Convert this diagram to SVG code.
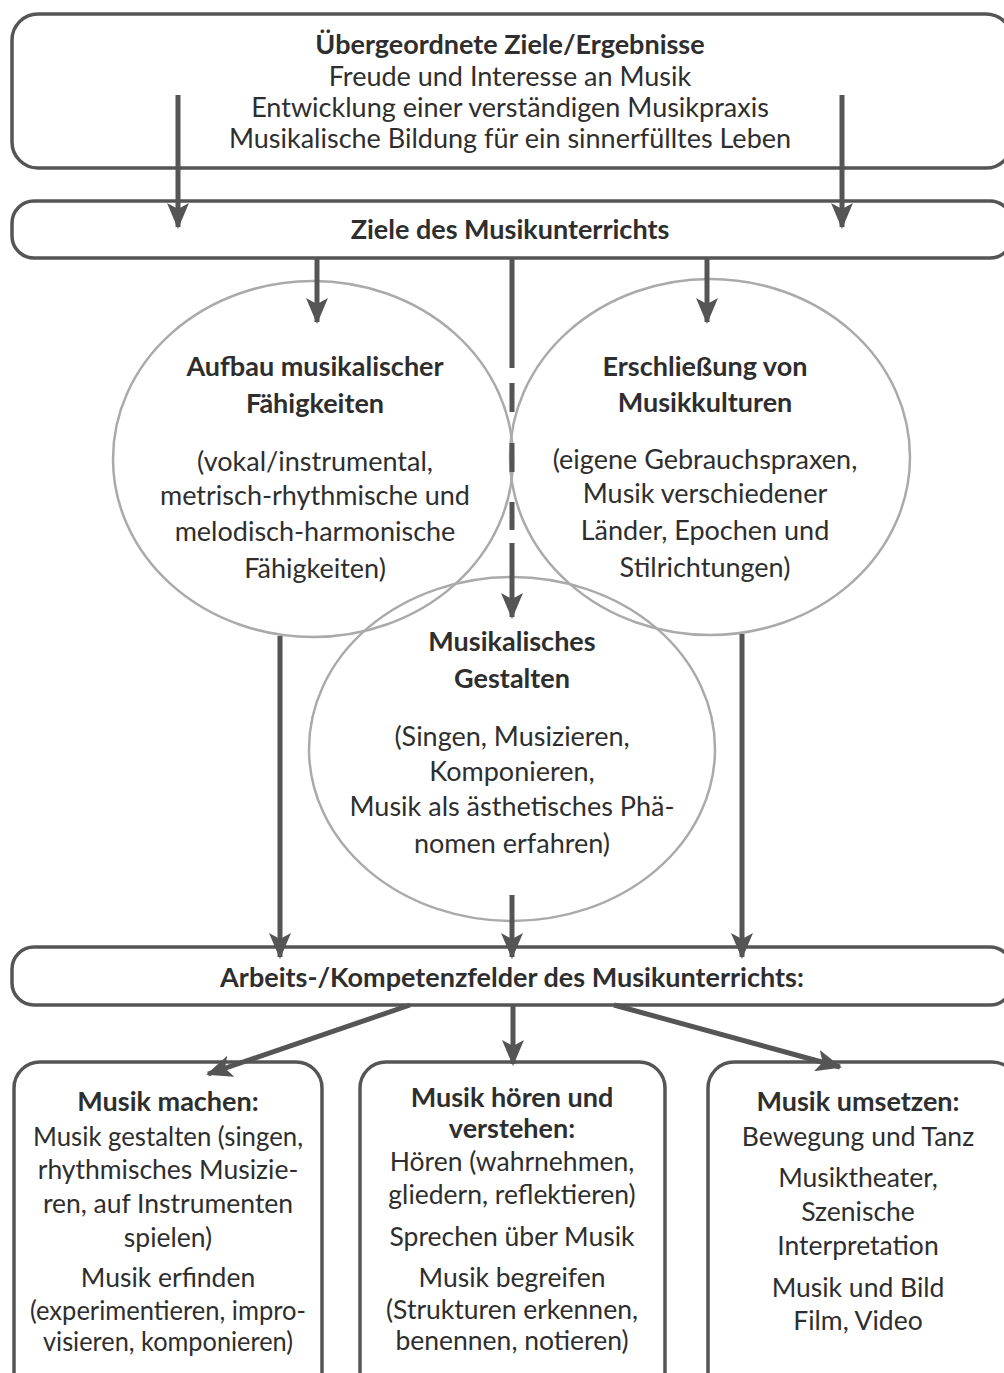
<svg xmlns="http://www.w3.org/2000/svg" width="1004" height="1373" viewBox="0 0 1004 1373">
  <defs>
    <marker id="head" markerUnits="userSpaceOnUse" markerWidth="26" markerHeight="22" refX="24" refY="11" orient="auto">
      <path d="M0,0 L26,11 L0,22 L6,11 Z" fill="#555"/>
    </marker>
    <style>
      .box { fill: #fff; stroke: #555; stroke-width: 3.5; }
      .circle { fill: none; stroke: #aaa; stroke-width: 2.5; }
      .conn { fill: none; stroke: #555; stroke-width: 5; }
      text { font-family: Lato, "Open Sans", sans-serif; fill: #2e2e2e; text-anchor: middle; }
      .t { font-size: 27px; }
      .b { font-size: 27px; font-weight: bold; }
      .s { font-size: 26.5px; }
    </style>
  </defs>
  <rect width="1004" height="1373" fill="#fff"/>

  <!-- level boxes -->
  <g id="uebergeordnete-ziele">
    <rect class="box" x="12" y="14" width="1000" height="154" rx="26"/>
    <text class="b" x="510" y="54">Übergeordnete Ziele/Ergebnisse</text>
    <text class="t" x="510" y="86">Freude und Interesse an Musik</text>
    <text class="t" x="510" y="117">Entwicklung einer verständigen Musikpraxis</text>
    <text class="t" x="510" y="148">Musikalische Bildung für ein sinnerfülltes Leben</text>
  </g>

  <g id="ziele-musikunterricht">
    <rect class="box" x="12" y="201" width="1000" height="57" rx="22"/>
    <text class="b" x="510" y="239">Ziele des Musikunterrichts</text>
  </g>

  <!-- three overlapping goal areas -->
  <g id="aufbau">
    <ellipse class="circle" cx="313" cy="459" rx="200" ry="178"/>
    <text class="b" x="315" y="376">Aufbau musikalischer</text>
    <text class="b" x="315" y="413">Fähigkeiten</text>
    <text class="t" x="315" y="471">(vokal/instrumental,</text>
    <text class="t" x="315" y="505">metrisch-rhythmische und</text>
    <text class="t" x="315" y="541">melodisch-harmonische</text>
    <text class="t" x="315" y="578">Fähigkeiten)</text>
  </g>

  <g id="erschliessung">
    <ellipse class="circle" cx="710" cy="457" rx="200" ry="178"/>
    <text class="b" x="705" y="376">Erschließung von</text>
    <text class="b" x="705" y="412">Musikkulturen</text>
    <text class="t" x="705" y="469">(eigene Gebrauchspraxen,</text>
    <text class="t" x="705" y="503">Musik verschiedener</text>
    <text class="t" x="705" y="540">Länder, Epochen und</text>
    <text class="t" x="705" y="577">Stilrichtungen)</text>
  </g>

  <g id="gestalten">
    <ellipse class="circle" cx="512" cy="749" rx="203" ry="172"/>
    <text class="b" x="512" y="651">Musikalisches</text>
    <text class="b" x="512" y="688">Gestalten</text>
    <text class="t" x="512" y="746">(Singen, Musizieren,</text>
    <text class="t" x="512" y="781">Komponieren,</text>
    <text class="t" x="512" y="816">Musik als ästhetisches Phä-</text>
    <text class="t" x="512" y="853">nomen erfahren)</text>
  </g>

  <g id="arbeitsfelder">
    <rect class="box" x="12" y="947" width="1000" height="58" rx="22"/>
    <text class="b" x="512" y="987">Arbeits-/Kompetenzfelder des Musikunterrichts:</text>
  </g>

  <!-- fields of work -->
  <g id="musik-machen">
    <rect class="box" x="14" y="1062" width="308" height="340" rx="26"/>
    <text class="b" x="168" y="1111">Musik machen:</text>
    <text class="s" x="168" y="1146" textLength="270" lengthAdjust="spacingAndGlyphs">Musik gestalten (singen,</text>
    <text class="s" x="168" y="1179">rhythmisches Musizie-</text>
    <text class="s" x="168" y="1213">ren, auf Instrumenten</text>
    <text class="s" x="168" y="1247">spielen)</text>
    <text class="s" x="168" y="1287">Musik erfinden</text>
    <text class="s" x="168" y="1320" textLength="276" lengthAdjust="spacingAndGlyphs">(experimentieren, impro-</text>
    <text class="s" x="168" y="1351" textLength="250" lengthAdjust="spacingAndGlyphs">visieren, komponieren)</text>
  </g>

  <g id="musik-hoeren">
    <rect class="box" x="360" y="1062" width="305" height="340" rx="26"/>
    <text class="b" x="512" y="1107">Musik hören und</text>
    <text class="b" x="512" y="1138">verstehen:</text>
    <text class="s" x="512" y="1171">Hören (wahrnehmen,</text>
    <text class="s" x="512" y="1204">gliedern, reflektieren)</text>
    <text class="s" x="512" y="1246">Sprechen über Musik</text>
    <text class="s" x="512" y="1287">Musik begreifen</text>
    <text class="s" x="512" y="1319">(Strukturen erkennen,</text>
    <text class="s" x="512" y="1350">benennen, notieren)</text>
  </g>

  <g id="musik-umsetzen">
    <rect class="box" x="708" y="1062" width="310" height="340" rx="26"/>
    <text class="b" x="858" y="1111">Musik umsetzen:</text>
    <text class="s" x="858" y="1146">Bewegung und Tanz</text>
    <text class="s" x="858" y="1187">Musiktheater,</text>
    <text class="s" x="858" y="1221">Szenische</text>
    <text class="s" x="858" y="1255">Interpretation</text>
    <text class="s" x="858" y="1297">Musik und Bild</text>
    <text class="s" x="858" y="1330">Film, Video</text>
  </g>

  <!-- connectors -->
  <g id="connectors">
    <line class="conn" x1="178" y1="95" x2="178" y2="227" marker-end="url(#head)"/>
    <line class="conn" x1="842" y1="95" x2="842" y2="227" marker-end="url(#head)"/>
    <line class="conn" x1="317" y1="258" x2="317" y2="322" marker-end="url(#head)"/>
    <line class="conn" x1="707" y1="258" x2="707" y2="322" marker-end="url(#head)"/>
    <path class="conn" d="M512,258 V368 M512,383 V412 M512,443 V472 M512,502 V530"/>
    <line class="conn" x1="512" y1="543" x2="512" y2="617" marker-end="url(#head)"/>
    <line class="conn" x1="280" y1="636" x2="280" y2="957" marker-end="url(#head)"/>
    <line class="conn" x1="512" y1="895" x2="512" y2="957" marker-end="url(#head)"/>
    <line class="conn" x1="742" y1="634" x2="742" y2="957" marker-end="url(#head)"/>
    <line class="conn" x1="410" y1="1005" x2="208" y2="1074" marker-end="url(#head)"/>
    <line class="conn" x1="513" y1="1005" x2="513" y2="1064" marker-end="url(#head)"/>
    <line class="conn" x1="614" y1="1005" x2="840" y2="1067" marker-end="url(#head)"/>
  </g>
</svg>
